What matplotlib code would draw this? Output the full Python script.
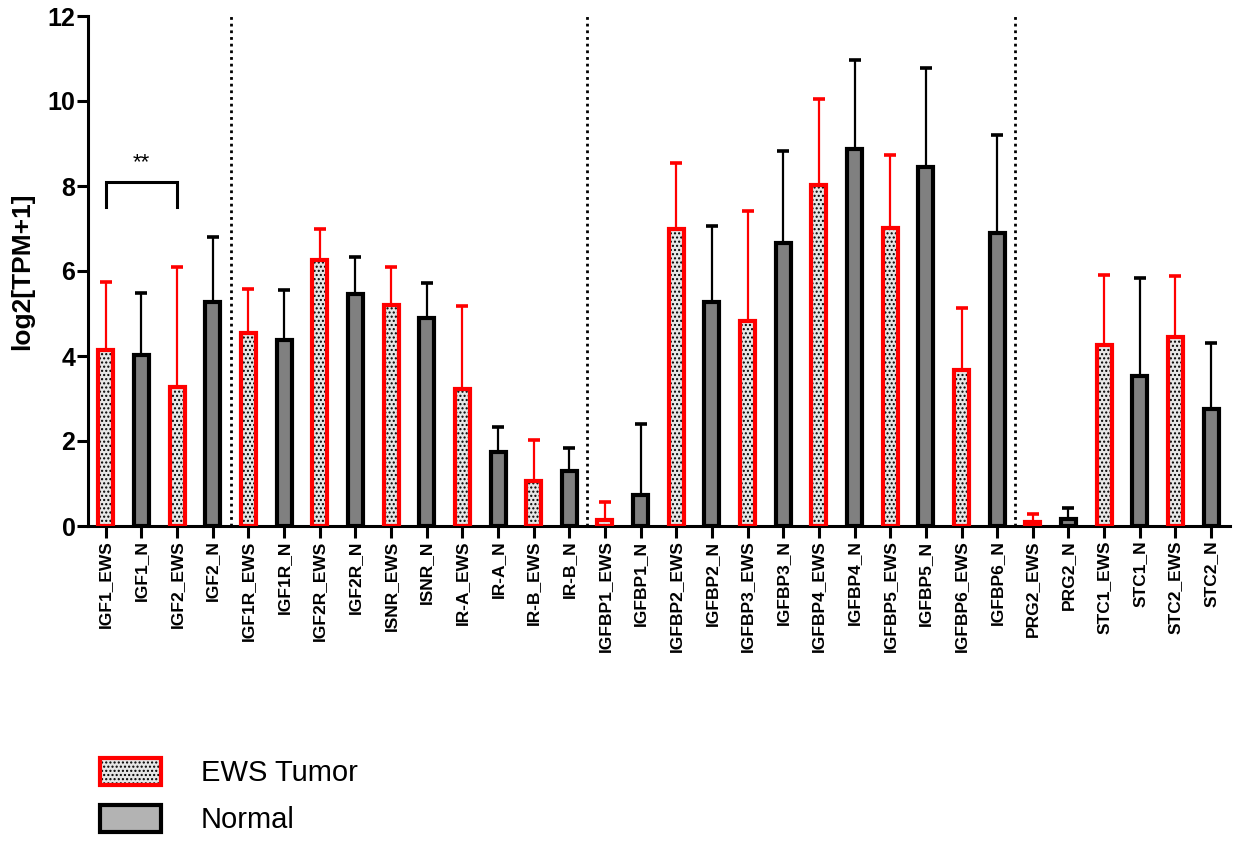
import numpy as np
import matplotlib
matplotlib.use("Agg")
import matplotlib.pyplot as plt
from matplotlib.patches import Patch
from matplotlib.legend_handler import HandlerTuple

plt.rcParams['font.family'] = ['Liberation Sans', 'DejaVu Sans']
plt.rcParams['hatch.linewidth'] = 1.0

# data
labels = ['IGF1_EWS', 'IGF1_N', 'IGF2_EWS', 'IGF2_N',
          'IGF1R_EWS', 'IGF1R_N', 'IGF2R_EWS', 'IGF2R_N', 'ISNR_EWS', 'ISNR_N',
          'IR-A_EWS', 'IR-A_N', 'IR-B_EWS', 'IR-B_N',
          'IGFBP1_EWS', 'IGFBP1_N', 'IGFBP2_EWS', 'IGFBP2_N', 'IGFBP3_EWS', 'IGFBP3_N',
          'IGFBP4_EWS', 'IGFBP4_N', 'IGFBP5_EWS', 'IGFBP5_N', 'IGFBP6_EWS', 'IGFBP6_N',
          'PRG2_EWS', 'PRG2_N', 'STC1_EWS', 'STC1_N', 'STC2_EWS', 'STC2_N']
means = [4.14, 4.03, 3.27, 5.28,
         4.53, 4.37, 6.25, 5.45, 5.20, 4.90,
         3.23, 1.74, 1.05, 1.30,
         0.13, 0.73, 7.00, 5.28, 4.82, 6.67,
         8.02, 8.87, 7.02, 8.45, 3.66, 6.90,
         0.10, 0.17, 4.25, 3.53, 4.45, 2.76]
sds = [1.61, 1.45, 2.83, 1.52,
       1.04, 1.18, 0.75, 0.87, 0.90, 0.82,
       1.95, 0.59, 0.97, 0.53,
       0.44, 1.67, 1.55, 1.79, 2.60, 2.15,
       2.03, 2.10, 1.70, 2.33, 1.47, 2.30,
       0.18, 0.25, 1.65, 2.30, 1.43, 1.54]
group_breaks = [3.5, 13.5, 25.5]
sig_pair = (0, 2)
sig_text = '**'

means = np.array(means)
sds = np.array(sds)
x = np.arange(len(labels))
is_ews = np.array([l.endswith('_EWS') for l in labels])

fig = plt.figure(figsize=(12.33, 8.41), dpi=100)
ax = fig.add_axes([88/1233, 1-526/841, (1230-88)/1233, (526-16)/841])

w = 0.42
xe, xn = x[is_ews], x[~is_ews]

# error bars (upper only), drawn under the bars
ax.errorbar(xe, means[is_ews], yerr=[np.zeros(is_ews.sum()), sds[is_ews]], fmt='none',
            ecolor='red', elinewidth=1.6, capsize=4, capthick=2.6, zorder=1)
ax.errorbar(xn, means[~is_ews], yerr=[np.zeros((~is_ews).sum()), sds[~is_ews]], fmt='none',
            ecolor='black', elinewidth=1.6, capsize=4, capthick=2.6, zorder=1)

# tumour bars: dotted fill then red outline
ax.bar(xe, means[is_ews], w, color='#e6e6e6', edgecolor='black', linewidth=0,
       hatch='....', zorder=2)
ax.bar(xe, means[is_ews], w, fill=False, edgecolor='red', linewidth=3, zorder=3)
# normal bars
ax.bar(xn, means[~is_ews], w, color='#808080', edgecolor='black', linewidth=3, zorder=3)

for b in group_breaks:
    ax.plot([b, b], [0, 12], color='black', lw=2, ls=(0, (1, 1.4)), zorder=0)

# significance bracket
x0, x1 = sig_pair
ax.plot([x0, x0, x1, x1], [7.5, 8.09, 8.09, 7.5], color='black', lw=2.2,
        solid_joinstyle='miter', zorder=4)
ax.text((x0 + x1) / 2, 8.3, sig_text, ha='center', va='bottom', fontsize=16)

ax.set_xlim(-0.5, 31.53)
ax.set_ylim(0, 12)
ax.set_yticks(np.arange(0, 13, 2))
ax.set_xticks(x)
ax.set_xticklabels(labels, rotation=90, fontsize=12.5, fontweight='bold')
for t in ax.get_yticklabels():
    t.set_fontweight('bold')
    t.set_fontsize(18)
ax.tick_params(axis='y', length=8, width=2.2, pad=1)
ax.tick_params(axis='x', length=8.5, width=2.2, pad=2)
ax.set_ylabel('log2[TPM+1]', fontsize=19, fontweight='bold', labelpad=10)
for s in ['top', 'right']:
    ax.spines[s].set_visible(False)
for s in ['left', 'bottom']:
    ax.spines[s].set_linewidth(2.2)

h_ews = (Patch(facecolor='#e6e6e6', edgecolor='black', linewidth=0, hatch='....'),
         Patch(fill=False, edgecolor='red', linewidth=3))
h_n = Patch(facecolor='#b3b3b3', edgecolor='black', linewidth=3)
fig.legend([h_ews, h_n], ['EWS Tumor', 'Normal'], handler_map={tuple: HandlerTuple(ndivide=1, pad=0)},
           loc='upper left', bbox_to_anchor=(100/1233, 1-758/841), frameon=False,
           fontsize=21, handlelength=2.1, handleheight=1.05, handletextpad=1.35,
           labelspacing=0.6, borderpad=0, borderaxespad=0)

fig.savefig('out.png', dpi=100)
